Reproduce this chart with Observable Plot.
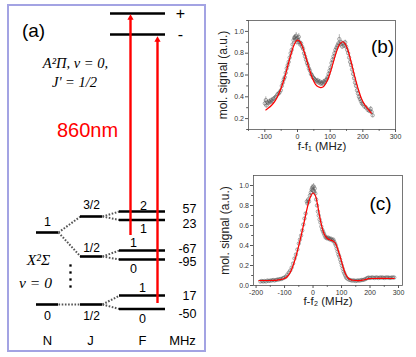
<!DOCTYPE html>
<html><head><meta charset="utf-8">
<script src="https://cdn.jsdelivr.net/npm/d3@7"></script>
<script src="https://cdn.jsdelivr.net/npm/@observablehq/plot@0.6"></script>
<style>
body{margin:0;background:#fff;}
#wrap{position:relative;width:416px;height:357px;overflow:hidden;background:#fff;}
#wrap svg{position:absolute;}
</style></head><body><div id="wrap"></div>
<script>
// ---------- Panel (b) data ----------
const bX = [-100,-97,-95,-92,-89,-86,-83,-80,-77,-74,-70,-66,-62,-58,-55,-51,-48,-45,-42,-39,-36,-33,-30,-27,-24,-21,-18,-15,-12,-10,-8,-6,-4,-2,0,2,4,6,8,11,14,17,20,23,26,29,32,35,38,41,44,47,50,53,56,59,62,65,68,71,74,77,80,83,86,89,92,95,98,101,104,107,110,113,116,119,122,125,128,131,134,137,140,143,146,149,152,155,158,161,164,167,170,173,176,179,182,185,188,191,194,197,200,205,210,215,220,224,227,230];
const bY = [0.34,0.37,0.32,0.35,0.34,0.36,0.35,0.37,0.36,0.38,0.39,0.40,0.42,0.43,0.44,0.46,0.50,0.53,0.56,0.58,0.62,0.66,0.69,0.72,0.76,0.80,0.83,0.88,0.92,0.94,0.95,0.93,0.96,0.90,0.94,0.92,0.95,0.90,0.88,0.89,0.86,0.84,0.80,0.77,0.74,0.71,0.69,0.66,0.64,0.61,0.60,0.58,0.57,0.56,0.55,0.54,0.55,0.53,0.54,0.52,0.53,0.52,0.54,0.53,0.55,0.56,0.58,0.61,0.64,0.67,0.71,0.74,0.77,0.80,0.83,0.85,0.87,0.89,0.93,0.88,0.90,0.86,0.89,0.87,0.90,0.86,0.83,0.80,0.76,0.72,0.69,0.65,0.61,0.57,0.53,0.50,0.46,0.43,0.40,0.38,0.36,0.34,0.33,0.31,0.30,0.28,0.27,0.29,0.26,0.23];
const bErr = [0.03,0.03,0.02,0.02,0.02,0.02,0.02,0.02,0.02,0.02,0.02,0.02,0.02,0.02,0.02,0.02,0.02,0.02,0.02,0.02,0.02,0.02,0.02,0.02,0.02,0.02,0.02,0.02,0.02,0.02,0.02,0.02,0.03,0.02,0.02,0.02,0.03,0.02,0.02,0.02,0.02,0.02,0.02,0.02,0.02,0.02,0.02,0.02,0.02,0.02,0.02,0.02,0.02,0.02,0.02,0.02,0.02,0.02,0.02,0.02,0.02,0.02,0.02,0.02,0.02,0.02,0.02,0.02,0.02,0.02,0.02,0.02,0.02,0.02,0.02,0.02,0.02,0.02,0.04,0.02,0.02,0.02,0.02,0.02,0.02,0.02,0.02,0.02,0.02,0.02,0.02,0.02,0.02,0.02,0.02,0.02,0.02,0.02,0.02,0.02,0.02,0.02,0.02,0.02,0.02,0.02,0.02,0.02,0.02,0.02];
const bFitX = [-97,-90,-80,-70,-60,-50,-40,-30,-20,-10,0,8,15,25,35,45,55,65,72,80,90,100,110,120,130,138,145,155,165,175,185,195,205,215,226];
const bFitY = [0.28,0.295,0.32,0.355,0.41,0.48,0.57,0.68,0.79,0.88,0.92,0.905,0.86,0.77,0.665,0.575,0.515,0.49,0.485,0.495,0.54,0.62,0.72,0.82,0.885,0.905,0.89,0.82,0.71,0.59,0.48,0.39,0.33,0.29,0.25];
const bXTicks = [-100,0,100,200,300];
const bXMinor = [-150,-50,50,150,250];
const bYTicks = [0.2,0.4,0.6,0.8,1.0];
const bYMinor = [0.1,0.3,0.5,0.7,0.9,1.1];

// ---------- Panel (c) data ----------
const cX = [-185,-180,-175,-170,-165,-160,-155,-150,-145,-140,-135,-130,-125,-120,-115,-110,-105,-100,-95,-90,-85,-80,-75,-70,-65,-60,-55,-50,-46,-42,-38,-34,-30,-26,-22,-20,-17,-14,-11,-8,-5,-3,0,2,4,6,8,11,14,17,20,23,26,29,32,35,38,41,44,47,50,53,56,59,62,65,68,71,74,77,80,83,86,89,92,95,98,101,104,107,110,113,116,120,125,130,135,140,145,150,155,160,165,170,175,180,185,190,195,200,205,210,215,220,225,230,235,240,245,250,255,260,265,270,275,280,285];
const cY = [0.04,0.045,0.04,0.045,0.04,0.05,0.045,0.05,0.05,0.055,0.05,0.055,0.06,0.06,0.065,0.065,0.075,0.08,0.09,0.11,0.13,0.15,0.18,0.22,0.27,0.31,0.36,0.42,0.46,0.50,0.55,0.61,0.67,0.72,0.84,0.82,0.86,0.84,0.90,0.93,0.96,0.98,0.95,0.99,0.94,0.97,0.92,0.86,0.80,0.74,0.70,0.66,0.63,0.59,0.56,0.54,0.52,0.50,0.48,0.48,0.47,0.48,0.47,0.46,0.47,0.46,0.45,0.46,0.44,0.42,0.40,0.37,0.34,0.31,0.29,0.26,0.23,0.20,0.17,0.14,0.12,0.10,0.08,0.07,0.06,0.055,0.05,0.05,0.05,0.045,0.05,0.05,0.05,0.055,0.055,0.06,0.065,0.075,0.08,0.075,0.08,0.08,0.075,0.08,0.08,0.075,0.08,0.08,0.08,0.075,0.08,0.08,0.08,0.075,0.08,0.08,0.08];
const cErr = [0.01,0.01,0.01,0.01,0.01,0.01,0.01,0.01,0.01,0.01,0.01,0.01,0.01,0.01,0.01,0.01,0.01,0.01,0.01,0.01,0.01,0.01,0.01,0.01,0.01,0.01,0.01,0.01,0.01,0.01,0.01,0.01,0.01,0.01,0.02,0.02,0.02,0.02,0.02,0.03,0.03,0.03,0.03,0.03,0.03,0.03,0.02,0.02,0.02,0.01,0.01,0.01,0.01,0.01,0.01,0.01,0.01,0.01,0.01,0.01,0.01,0.01,0.01,0.01,0.01,0.01,0.01,0.01,0.01,0.01,0.01,0.01,0.01,0.01,0.01,0.01,0.01,0.01,0.01,0.01,0.01,0.01,0.01,0.01,0.01,0.01,0.01,0.01,0.01,0.01,0.01,0.01,0.01,0.01,0.01,0.01,0.01,0.01,0.01,0.01,0.01,0.01,0.01,0.01,0.01,0.01,0.01,0.01,0.01,0.01,0.01,0.01,0.01,0.01,0.01,0.01,0.01];
const cFitX = [-190,-160,-130,-115,-100,-90,-80,-70,-60,-50,-40,-30,-20,-10,0,8,15,22,30,40,50,60,70,78,86,95,105,115,125,135,150,170,185,195,210,285];
const cFitY = [0.05,0.05,0.052,0.058,0.07,0.09,0.13,0.2,0.29,0.40,0.52,0.65,0.78,0.88,0.925,0.9,0.82,0.71,0.6,0.51,0.47,0.455,0.445,0.425,0.37,0.29,0.19,0.11,0.07,0.055,0.05,0.052,0.06,0.068,0.07,0.07];
const cXTicks = [-200,-100,0,100,200,300];
const cXMinor = [-150,-50,50,150,250];
const cYTicks = [0,0.2,0.4,0.6,0.8,1.0];
const cYMinor = [0.1,0.3,0.5,0.7,0.9];

// ---------- Panel (a): energy-level diagram (schematic) ----------
const upperSigns = ["+", "-"];
const nLabels = ["1", "0"];
const jLabels = ["3/2", "1/2", "1/2"];
const fLabels = ["2", "1", "1", "0", "1", "0"];
const fMHz = ["57", "23", "-67", "-95", "17", "-50"];
const colTitles = ["N", "J", "F", "MHz"];
const excitedLabel = ["A²Π, v = 0,", "J' = 1/2"];
const groundLabel = ["X²Σ", "v = 0"];
const laserLabel = ["860nm"];

// schematic layout of the diagram (panel pixels)
const LAY = {
  box: [8, 205, 5, 351],
  upperY: [13, 34], upperX: [110, 165], signX: 180,
  nX: [36, 58], nY: [232, 304], nLabY: [221, 315],
  jX: [80, 102], jY: [216, 256, 304], jLabY: [205, 248, 316], jOfN: [[0, 1], [2]],
  fX: [119, 165], fY: [211, 219.5, 250, 259, 295, 308.5],
  fLabX: [143, 143, 133, 133, 142, 142], fLabY: [205, 228, 242, 268, 287, 318],
  mhzX: 196, mhzY: [208, 223, 248, 261, 295, 313],
  colX: [47, 90, 142, 182], colY: 340,
  arrows: [{x: 130, from: 235, to: 0}, {x: 157, from: 303, to: 1}],
  dotsX: 70, dotsY: [265, 272, 279, 286],
  excited: [[75, 63], [74, 82]], ground: [[38, 260], [35, 283]],
  laser: [87, 130], tag: [33, 30]
};

const SANS = "'Liberation Sans', Arial, sans-serif";
const SERIF = "'Liberation Serif', 'Times New Roman', serif";
const wrap = document.getElementById("wrap");

// build diagram objects
const levels = [];
LAY.upperY.forEach(y => levels.push({x1: LAY.upperX[0], x2: LAY.upperX[1], y}));
LAY.nY.forEach(y => levels.push({x1: LAY.nX[0], x2: LAY.nX[1], y}));
LAY.jY.forEach(y => levels.push({x1: LAY.jX[0], x2: LAY.jX[1], y}));
LAY.fY.forEach(y => levels.push({x1: LAY.fX[0], x2: LAY.fX[1], y}));
const links = [];
LAY.jOfN.forEach((js, n) => js.forEach(j => links.push({x1: LAY.nX[1], y1: LAY.nY[n], x2: LAY.jX[0], y2: LAY.jY[j]})));
LAY.jY.forEach((y, j) => [2 * j, 2 * j + 1].forEach(f => links.push({x1: LAY.jX[1], y1: y, x2: LAY.fX[0], y2: LAY.fY[f]})));
const texts = [];
upperSigns.forEach((t, i) => texts.push({t, x: LAY.signX, y: LAY.upperY[i], s: 16}));
nLabels.forEach((t, i) => texts.push({t, x: (LAY.nX[0] + LAY.nX[1]) / 2, y: LAY.nLabY[i], s: 12.5}));
jLabels.forEach((t, i) => texts.push({t, x: (LAY.jX[0] + LAY.jX[1]) / 2, y: LAY.jLabY[i], s: 12}));
fLabels.forEach((t, i) => texts.push({t, x: LAY.fLabX[i], y: LAY.fLabY[i], s: 12.5}));
colTitles.forEach((t, i) => texts.push({t, x: LAY.colX[i], y: LAY.colY, s: 13}));
const mhz = fMHz.map((t, i) => ({t, x: LAY.mhzX, y: LAY.mhzY[i]}));
const serifTexts = [...excitedLabel.map((t, i) => ({t, x: LAY.excited[i][0], y: LAY.excited[i][1], s: 14.5})),
                    ...groundLabel.map((t, i) => ({t, x: LAY.ground[i][0], y: LAY.ground[i][1], s: 15.5}))];
const arrows = LAY.arrows.map(a => ({x: a.x, y1: a.from, y2: LAY.upperY[a.to] + 1 + (a.to === 1 ? 1 : 0)}));

const A = Plot.plot({
  width: 210, height: 357, margin: 0,
  x: {domain: [0, 210], range: [0, 210], axis: null},
  y: {domain: [0, 357], range: [0, 357], axis: null},
  style: {background: "transparent", fontFamily: SANS, overflow: "visible"},
  marks: [
    Plot.rect([LAY.box], {x1: d => d[0], x2: d => d[1], y1: d => d[2], y2: d => d[3], fill: "none", stroke: "#a3a3e3", strokeWidth: 2}),
    Plot.link(links, {x1: "x1", y1: "y1", x2: "x2", y2: "y2", stroke: "#555", strokeWidth: 2, strokeDasharray: "1.6 1.6"}),
    Plot.ruleY(levels, {y: "y", x1: "x1", x2: "x2", stroke: "black", strokeWidth: 2.6}),
    Plot.dot(LAY.dotsY, {x: () => LAY.dotsX, y: d => d, symbol: "square", r: 1.3, fill: "black", stroke: "none"}),
    Plot.ruleX(arrows, {x: "x", y1: "y1", y2: d => d.y2 + 3, stroke: "#ff0000", strokeWidth: 2.4}),
    Plot.dot(arrows, {x: "x", y: "y2", dy: 3.4, symbol: "triangle", r: 2.3, fill: "#ff0000", stroke: "none"}),
    Plot.text(texts, {x: "x", y: "y", text: "t", fontSize: d => d.s, fill: "black", textAnchor: "middle", lineAnchor: "middle"}),
    Plot.text(mhz, {x: "x", y: "y", text: "t", fontSize: 12.5, fill: "black", textAnchor: "end", lineAnchor: "middle"}),
    Plot.text(serifTexts, {x: "x", y: "y", text: "t", fontSize: d => d.s, fontFamily: SERIF, fontStyle: "italic", fill: "black", textAnchor: "middle", lineAnchor: "middle"}),
    Plot.text(laserLabel, {x: () => LAY.laser[0], y: () => LAY.laser[1], text: d => d, fontSize: 20, fill: "#ff0000", textAnchor: "middle", lineAnchor: "middle"}),
    Plot.text(["(a)"], {x: () => LAY.tag[0], y: () => LAY.tag[1], text: d => d, fontSize: 19, fill: "black", textAnchor: "middle", lineAnchor: "middle"})
  ]
});
A.style.left = "0px"; A.style.top = "0px";
wrap.appendChild(A);

function spectrum(o) {
  const pts = o.X.map((x, i) => ({x, y: o.Y[i], e: o.E[i]}));
  const fit = o.FX.map((x, i) => ({x, y: o.FY[i]}));
  return Plot.plot({
    width: o.width, height: o.height,
    marginLeft: o.m[0], marginRight: o.m[1], marginTop: o.m[2], marginBottom: o.m[3],
    style: {background: "transparent", fontFamily: SANS, fontSize: "7px", color: "#333", overflow: "visible"},
    x: {domain: o.xDomain},
    y: {domain: o.yDomain},
    marks: [
      Plot.axisX(o.xTicks, {tickSize: 3, tickPadding: 1.5, tickFormat: d => String(d), label: null, stroke: "#555"}),
      Plot.axisX(o.xMinor, {tickSize: 1.8, tickFormat: () => "", label: null, stroke: "#555"}),
      Plot.axisY(o.yTicks, {tickSize: 3, tickPadding: 1.5, tickFormat: d3.format(".1f"), label: null, stroke: "#555"}),
      Plot.axisY(o.yMinor, {tickSize: 1.8, tickFormat: () => "", label: null, stroke: "#555"}),
      Plot.frame({stroke: "#555", strokeWidth: 0.8}),
      Plot.ruleX(pts, {x: "x", y1: d => d.y - d.e, y2: d => d.y + d.e, stroke: "#666", strokeWidth: 0.5}),
      Plot.dot(pts, {x: "x", y: "y", r: 1.7, stroke: "#555", strokeWidth: 0.5, fill: "none"}),
      Plot.line(fit, {x: "x", y: "y", stroke: "#ff0000", strokeWidth: 1.2, curve: "catmull-rom"}),
      Plot.text(["mol. signal (a.u.)"], {frameAnchor: "left", dx: o.ylDx, rotate: -90, text: d => d, fontSize: 12, fill: "#222", textAnchor: "middle", lineAnchor: "middle"}),
      Plot.text([o.xLabel], {frameAnchor: "bottom", dy: o.xlDy, text: d => d, fontSize: 11.5, fill: "#222", textAnchor: "middle", lineAnchor: "middle"}),
      Plot.text([o.tag], {frameAnchor: "top-right", dx: o.tagD[0], dy: o.tagD[1], text: d => d, fontSize: 19, fill: "black", textAnchor: "middle", lineAnchor: "middle"})
    ]
  });
}

const B = spectrum({X: bX, Y: bY, E: bErr, FX: bFitX, FY: bFitY, width: 206, height: 170, m: [38, 21, 20, 41],
  xDomain: [-150, 300], yDomain: [0.1, 1.1], xTicks: bXTicks, xMinor: bXMinor, yTicks: bYTicks, yMinor: bYMinor,
  xLabel: "f-f₁ (MHz)", ylDx: -25, xlDy: 17, tag: "(b)", tagD: [-13, 26]});
B.style.left = "210px"; B.style.top = "0px";
wrap.appendChild(B);

const C = spectrum({X: cX, Y: cY, E: cErr, FX: cFitX, FY: cFitY, width: 206, height: 187, m: [43, 14, 5, 72],
  xDomain: [-209, 314], yDomain: [0, 1.1], xTicks: cXTicks, xMinor: cXMinor, yTicks: cYTicks, yMinor: cYMinor,
  xLabel: "f-f₂ (MHz)", ylDx: -28, xlDy: 16, tag: "(c)", tagD: [-22, 28]});
C.style.left = "210px"; C.style.top = "170px";
wrap.appendChild(C);
</script></body></html>
